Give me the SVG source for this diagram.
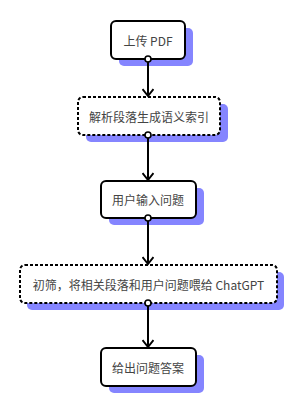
<svg xmlns="http://www.w3.org/2000/svg" width="300" height="414" viewBox="0 0 300 414">
<style>
.sh{fill:#8585ff;stroke:none}
.bx{fill:#fff;stroke:#000;stroke-width:2}
.ds{stroke-dasharray:3 2}
.t{font-family:"Noto Sans CJK SC","Liberation Sans",sans-serif;font-size:12px;fill:#444;text-anchor:middle;dominant-baseline:central}
.ln{stroke:#000;stroke-width:2;fill:none}
.dot{fill:#fff;stroke:#000;stroke-width:1.6}
</style>
<defs>
<marker id="ar" markerWidth="12" markerHeight="12" refX="10" refY="6" orient="auto" markerUnits="userSpaceOnUse">
<path d="M3,0.5 L10,6 L3,11.5" fill="none" stroke="#000" stroke-width="2"/>
</marker>
</defs>
<g id="n1">
<rect class="sh" x="119" y="28" width="74" height="38" rx="5"/>
<rect class="bx" x="111" y="21" width="74" height="38" rx="5"/>
<text class="t" x="148" y="40">上传 PDF</text>
</g>
<g id="n2">
<rect class="sh" x="86" y="104" width="142" height="38" rx="5"/>
<rect class="bx ds" x="78" y="97" width="142" height="38" rx="5"/>
<text class="t" x="149" y="116">解析段落生成语义索引</text>
</g>
<g id="n3">
<rect class="sh" x="109" y="188" width="95" height="37" rx="5"/>
<rect class="bx" x="101" y="181" width="95" height="37" rx="5"/>
<text class="t" x="148" y="199.5">用户输入问题</text>
</g>
<g id="n4">
<rect class="sh" x="27" y="272" width="257" height="38" rx="5"/>
<rect class="bx ds" x="20" y="265" width="257" height="38" rx="5"/>
<text class="t" x="148.5" y="284">初筛，将相关段落和用户问题喂给 ChatGPT</text>
</g>
<g id="n5">
<rect class="sh" x="109" y="355" width="95" height="38" rx="5"/>
<rect class="bx" x="101" y="348" width="95" height="38" rx="5"/>
<text class="t" x="148" y="367">给出问题答案</text>
</g>
<g id="connectors">
<line class="ln" x1="148" y1="59" x2="148" y2="96" marker-end="url(#ar)"/>
<line class="ln" x1="148" y1="135" x2="148" y2="180" marker-end="url(#ar)"/>
<line class="ln" x1="148" y1="218" x2="148" y2="264" marker-end="url(#ar)"/>
<line class="ln" x1="148" y1="303" x2="148" y2="347" marker-end="url(#ar)"/>
<circle class="dot" cx="148" cy="59" r="3"/>
<circle class="dot" cx="148" cy="135" r="3"/>
<circle class="dot" cx="148" cy="218" r="3"/>
<circle class="dot" cx="148" cy="303" r="3"/>
</g>
</svg>
